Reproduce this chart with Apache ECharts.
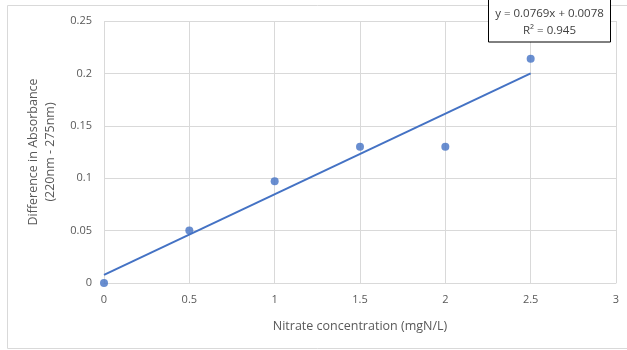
<!DOCTYPE html>
<html>
<head>
<meta charset="utf-8">
<script src="https://cdn.jsdelivr.net/npm/echarts@6/dist/echarts.min.js"></script>
<style>html,body{margin:0;padding:0;background:#fff}#c{width:627px;height:350px}</style>
</head>
<body>
<div id="c"></div>
<script>
var concentrations = [0, 0.5, 1, 1.5, 2, 2.5];
var absorbanceDiff = [0, 0.05, 0.097, 0.13, 0.13, 0.214];
var trendSlope = 0.0769;
var trendIntercept = 0.0078;
var trendRange = [0, 2.5];
var equationText = 'y = 0.0769x + 0.0078';
var r2Text = 'R² = 0.945';
var xTitle = 'Nitrate concentration (mgN/L)';
var yTitle = 'Difference in Absorbance\n(220nm - 275nm)';

var font = 'Open Sans';
var points = concentrations.map(function (x, i) { return [x, absorbanceDiff[i]]; });
var trend = trendRange.map(function (x) { return [x, trendSlope * x + trendIntercept]; });

var chart = echarts.init(document.getElementById('c'));
chart.setOption({
  animation: false,
  textStyle: { fontFamily: font },
  grid: { left: 104, right: 11, top: 21, bottom: 67 },
  xAxis: {
    type: 'value', min: 0, max: 3, interval: 0.5,
    name: xTitle, nameLocation: 'middle', nameGap: 37,
    nameTextStyle: { color: '#595959', fontSize: 12.5, fontFamily: font },
    axisLine: { show: true, lineStyle: { color: '#d9d9d9', width: 1 } },
    axisTick: { show: false },
    axisLabel: { color: '#595959', fontSize: 11, margin: 11, fontFamily: font },
    splitLine: { show: true, lineStyle: { color: '#d9d9d9', width: 1 } }
  },
  yAxis: {
    type: 'value', min: 0, max: 0.25, interval: 0.05,
    name: yTitle, nameLocation: 'middle', nameGap: 37,
    nameTextStyle: { color: '#595959', fontSize: 12.5, lineHeight: 17, fontFamily: font },
    axisLine: { show: false },
    axisTick: { show: false },
    axisLabel: { color: '#595959', fontSize: 11, margin: 12, fontFamily: font },
    splitLine: { show: true, lineStyle: { color: '#d9d9d9', width: 1 } }
  },
  series: [
    {
      type: 'line', data: trend, symbol: 'none', silent: true,
      lineStyle: { color: '#4472C4', width: 2 }, z: 2
    },
    {
      type: 'scatter', data: points, symbol: 'circle', symbolSize: 8,
      itemStyle: { color: '#4472C4' }, z: 3
    }
  ],
  graphic: [
    { type: 'rect', shape: { x: 7.5, y: 5.5, width: 640, height: 343 },
      style: { fill: 'none', stroke: '#d9d9d9', lineWidth: 1 }, z: 0, silent: true },
    { type: 'rect', shape: { x: 488.5, y: -5, width: 122, height: 47 },
      style: { fill: '#fff', stroke: '#000', lineWidth: 1 }, z: 10 },
    { type: 'text', x: 549.5, y: 14, z: 11,
      style: { text: equationText, fill: '#404040', font: '11.5px "Open Sans"', textAlign: 'center', textVerticalAlign: 'middle' } },
    { type: 'text', x: 549.5, y: 31, z: 11,
      style: { text: r2Text, fill: '#404040', font: '11.5px "Open Sans"', textAlign: 'center', textVerticalAlign: 'middle' } }
  ]
});
</script>
</body>
</html>
